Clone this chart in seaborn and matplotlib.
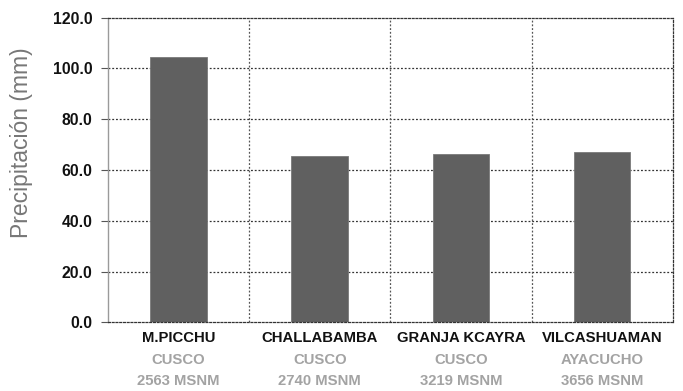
import matplotlib
matplotlib.use("Agg")
import matplotlib.pyplot as plt
import matplotlib.transforms as mtransforms
import seaborn as sns
import pandas as pd

# Station data
stations = ["M.PICCHU", "CHALLABAMBA", "GRANJA KCAYRA", "VILCASHUAMAN"]
regions = ["CUSCO", "CUSCO", "CUSCO", "AYACUCHO"]
altitudes = ["2563 MSNM", "2740 MSNM", "3219 MSNM", "3656 MSNM"]
precip_mm = [104.3, 65.6, 66.1, 66.9]
y_ticks = [0, 20, 40, 60, 80, 100, 120]

df = pd.DataFrame({"station": stations, "precip": precip_mm})

sns.set_theme(style="white")
plt.rcParams["font.family"] = ["Liberation Sans", "DejaVu Sans"]

fig = plt.figure(figsize=(6.83, 3.91), dpi=100)
ax = fig.add_axes([0.158, 0.1757, 0.827, 0.7795])

sns.barplot(data=df, x="station", y="precip", color="#606060",
            saturation=1, width=0.4, ax=ax)
for p in ax.patches:
    p.set_edgecolor("#7a7a7a")
    p.set_linewidth(0.6)

ax.set_xlim(-0.5, len(stations) - 0.5)
ax.set_ylim(0, 120)
ax.set_yticks(y_ticks)
ax.set_yticklabels([f"{v:.1f}" for v in y_ticks], fontsize=11.3, fontweight="bold",
                   color="#111111")

dot = (0, (1.5, 1.5))
# horizontal grid
for v in y_ticks[1:-1]:
    ax.axhline(v, color="#333333", lw=0.9, ls=dot, zorder=0)
# vertical separators between stations
for i in range(len(stations) - 1):
    ax.axvline(i + 0.5, color="#555555", lw=0.9, ls=dot, zorder=0)

for side in ["top", "right", "bottom"]:
    ax.spines[side].set_linestyle(dot)
    ax.spines[side].set_color("#333333")
    ax.spines[side].set_linewidth(0.9)
ax.spines["left"].set_color("#9a9a9a")
ax.spines["left"].set_linewidth(1.0)

ax.tick_params(axis="y", length=5, width=0.8, color="#555555", pad=6, left=True)
ax.tick_params(axis="x", length=0)

# three-line station labels
ax.set_xticks(range(len(stations)))
ax.set_xticklabels([])
ax.set_xlabel("")
trans = mtransforms.blended_transform_factory(ax.transData, fig.transFigure)
for i, (s, r, a) in enumerate(zip(stations, regions, altitudes)):
    ax.text(i, (391 - 338) / 391, s, transform=trans, ha="center", va="center",
            fontsize=10.7, fontweight="bold", color="#111111")
    ax.text(i, (391 - 360) / 391, r, transform=trans, ha="center", va="center",
            fontsize=10.7, fontweight="bold", color="#a3a3a3")
    ax.text(i, (391 - 381) / 391, a, transform=trans, ha="center", va="center",
            fontsize=10.7, fontweight="bold", color="#a3a3a3")

ax.set_ylabel("")
fig.text(22 / 683, 1 - 143 / 391, "Precipitación (mm)", rotation=90,
         ha="center", va="center", fontsize=16.5, color="#777777")

fig.savefig("out.png", dpi=100)
